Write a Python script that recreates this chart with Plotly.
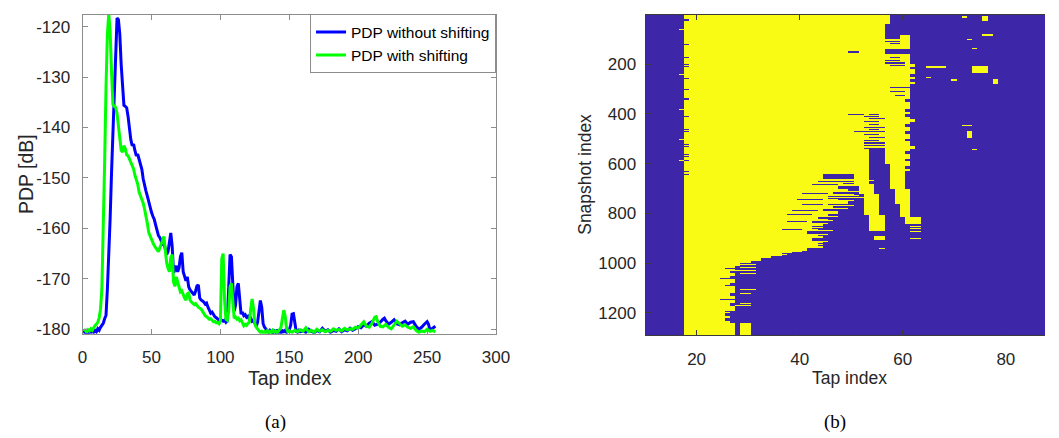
import numpy as np
import plotly.graph_objects as go

# ---------------- Data: (a) PDP curves ----------------
blue_x = list(range(1, 159)) + [160, 162, 164, 166, 168, 170, 172, 174, 176, 178, 180, 182, 184, 186, 188, 190,
                                192, 194, 196, 198, 200, 202, 204, 206, 208, 210, 212, 214, 216, 218, 219, 220,
                                222, 224, 226, 228, 230, 232, 234, 236, 238, 240, 242, 244, 246, 248, 250, 251,
                                252, 254, 256]
blue_y = [-180.2, -180.9, -180.4, -180.8, -180.1, -180.7, -180.3, -180.6, -180.2, -180.5,
          -179.9, -180.2, -179.6, -179.2, -178.8, -177.9, -177.2, -172.0, -166.0, -158.0,
          -149.0, -141.0, -131.0, -122.5, -118.3, -118.6, -121.5, -127.5, -133.0, -135.6,
          -135.8, -136.1, -137.8, -140.2, -142.4, -143.6, -143.3, -144.6, -145.6, -145.3,
          -146.4, -147.6, -148.3, -150.2, -151.8, -152.6, -153.6, -154.8, -155.4, -156.8,
          -157.6, -158.2, -159.3, -160.4, -161.4, -161.8, -162.6, -163.1, -162.9, -163.8,
          -165.2, -164.6, -162.4, -160.9, -163.5, -168.8, -168.2, -167.4, -168.6, -167.8,
          -165.6, -164.8, -168.6, -169.5, -170.4, -169.6, -171.6, -172.2, -172.6, -172.8,
          -173.2, -172.4, -171.4, -171.2, -173.8, -174.2, -174.4, -174.6, -175.0, -174.8,
          -175.6, -176.2, -176.8, -176.6, -177.2, -177.5, -177.7, -177.9, -178.2, -178.0,
          -178.3, -178.4, -178.2, -178.6, -178.3, -172.0, -165.2, -165.6, -172.8, -176.4,
          -175.2, -171.6, -170.9, -174.6, -177.0, -176.6, -177.3, -177.1, -177.6, -177.4,
          -178.0, -177.8, -178.4, -178.2, -178.9, -179.4, -178.6, -176.2, -174.3, -175.6,
          -178.9, -179.6, -179.9, -180.3, -180.6, -180.2, -180.5, -180.7, -180.3, -180.6,
          -180.1, -180.6, -180.4, -180.8, -180.3, -180.5, -180.2, -180.6, -180.4, -180.1,
          -179.2, -177.0, -176.9, -179.3, -180.4, -180.6, -180.2, -180.5,
          -180.3, -180.6, -180.0, -180.4, -180.7, -180.2, -180.5, -179.8, -180.4, -180.1,
          -180.6, -180.2, -180.4, -179.9, -180.5, -180.1, -180.3, -179.8, -180.2, -179.9,
          -179.5, -179.7, -179.1, -179.4, -178.8, -178.5, -179.2, -179.0, -178.6, -178.0,
          -177.8, -178.3, -179.0, -178.6, -178.1, -178.9, -179.1, -178.7, -178.4, -179.0,
          -178.6, -178.5, -179.4, -180.0, -179.6, -179.0, -178.5, -179.0, -180.1, -179.8,
          -179.4]

green_x = list(range(1, 151)) + [152, 154, 156, 158, 160, 162, 164, 166, 168, 170, 172, 174, 176, 178, 180,
                                 182, 184, 186, 188, 190, 192, 194, 196, 198, 200, 202, 204, 206, 208, 210,
                                 212, 213, 214, 216, 218, 220, 222, 224, 226, 228, 230, 232, 234, 236, 238,
                                 240, 242, 244, 246, 248, 250, 252, 254, 256]
green_y = [-180.4, -180.0, -180.6, -180.1, -180.3, -179.9, -180.2, -179.6, -179.3, -179.0,
           -178.6, -177.8, -176.0, -172.0, -162.0, -147.0, -132.0, -121.5, -117.5, -121.0,
           -129.0, -135.4, -135.8, -136.0, -137.2, -139.5, -142.0, -144.5, -144.9, -143.6,
           -144.2, -145.4, -145.6, -146.3, -146.8, -147.6, -148.2, -149.5, -150.3, -151.2,
           -152.8, -153.5, -154.1, -155.0, -156.2, -157.3, -159.0, -160.8, -161.6, -162.3,
           -162.8, -163.4, -163.7, -164.2, -164.6, -164.0, -163.2, -162.4, -161.6, -164.2,
           -166.8, -167.9, -168.6, -165.8, -165.2, -170.6, -171.5, -169.6, -170.8, -172.0,
           -172.6, -172.4, -173.2, -173.8, -174.2, -173.0, -172.8, -174.2, -174.6, -174.8,
           -175.1, -174.9, -175.4, -175.6, -175.8, -176.0, -176.4, -176.9, -177.3, -177.5,
           -177.7, -178.0, -177.9, -178.3, -178.5, -178.4, -178.7, -178.6, -178.9, -178.4,
           -166.0, -165.0, -174.0, -178.0, -178.2, -176.5, -171.6, -170.9, -175.2, -177.8,
           -177.6, -178.0, -177.8, -178.3, -178.1, -178.6, -179.3, -179.0, -179.2, -178.8,
           -178.6, -176.0, -174.0, -175.8, -178.9, -179.6, -179.9, -180.3, -180.6, -180.4,
           -180.7, -180.5, -180.8, -180.3, -180.6, -180.4, -180.7, -180.2, -180.5, -180.3,
           -180.6, -180.4, -180.1, -179.6, -177.8, -176.2, -177.4, -179.8, -180.5, -180.3,
           -180.6, -180.2, -180.5, -180.1, -180.4, -179.7, -180.5, -180.2, -180.6, -180.0,
           -180.4, -180.1, -180.5, -180.2, -180.4, -179.9, -180.2, -180.0, -180.3, -179.8,
           -180.1, -179.9, -180.0, -179.6, -179.8, -179.2, -178.5, -179.4, -179.6, -178.8,
           -177.6, -177.5, -178.4, -179.4, -179.5, -179.0, -179.6, -179.9, -179.2, -178.4,
           -178.9, -179.4, -179.1, -179.6, -179.8, -179.5, -180.2, -180.6, -180.3, -180.5,
           -180.0, -180.4, -180.2, -180.5]

pdp_xticks = [0, 50, 100, 150, 200, 250, 300]
pdp_yticks = [-180, -170, -160, -150, -140, -130, -120]
pdp_yticklabels = ["-180", "-170", "-160", "-150", "-140", "-130", "-120"]

# ---------------- Data: (b) binary tap-activity map ----------------
n_snap = 1290
n_tap = 100
band = 10
# last yellow tap of the main body, per band of 10 snapshots
body_right = [57, 57, 57, 57, 56, 56, 56, 56, 56, 56,
              61, 61, 61, 61, 56, 56, 61, 61, 61, 61,
              62, 61, 62, 62, 61, 62, 61, 62, 61, 61,
              61, 61, 61, 61, 60, 61, 61, 61, 60, 61,
              60, 61, 62, 61, 60, 61, 61, 60, 61, 61,
              60, 61, 61, 62, 61, 60, 61, 61, 60, 61,
              61, 60, 61, 60, 44, 44, 50, 48, 51, 47,
              49, 46, 50, 45, 47, 49, 45, 46, 44, 47,
              45, 43, 45, 42, 44, 42, 43, 41, 43, 44,
              42, 44, 43, 44, 41, 38, 36, 34, 32, 30,
              28, 27, 27, 26, 27, 26, 27, 27, 26, 27,
              27, 27, 26, 27, 27, 27, 26, 27, 27, 26,
              25, 26, 25, 26, 27, 27, 27, 27, 27]
body_left = 18
left_notches = [(20, 24), (118, 121), (170, 173), (200, 203), (209, 212), (255, 258), (300, 303),
                (335, 338), (342, 345), (410, 413), (460, 463), (470, 474), (520, 523), (530, 533),
                (560, 563), (570, 574), (585, 588), (630, 633), (640, 645)]
left_bumps = [(60, 63), (240, 243), (380, 383), (500, 503), (585, 588)]
# (snapshot from, snapshot to, tap from, tap to)
blue_cuts = [(147, 153, 50, 51), (107, 112, 57, 59), (116, 119, 58, 59), (173, 176, 58, 59),
             (182, 186, 57, 59), (193, 197, 57, 60), (202, 206, 58, 60),
             (292, 295, 58, 61), (299, 301, 59, 61), (308, 311, 58, 60), (326, 328, 59, 60),
             (399, 402, 50, 52), (399, 402, 54, 55), (408, 411, 53, 55), (418, 421, 54, 56),
             (430, 433, 53, 55), (441, 444, 54, 55), (452, 455, 53, 56), (462, 465, 54, 55),
             (471, 474, 51, 56), (483, 486, 53, 55), (494, 497, 54, 56), (505, 508, 53, 55),
             (515, 519, 53, 56), (526, 530, 53, 56), (536, 540, 53, 56), (541, 640, 54, 56),
             (600, 640, 54, 57),
             (670, 672, 44, 48), (684, 686, 43, 47), (705, 707, 42, 46), (718, 720, 41, 45),
             (742, 744, 40, 44), (762, 764, 41, 44), (786, 788, 39, 43), (804, 806, 38, 42),
             (832, 834, 38, 41), (862, 864, 37, 40), (890, 892, 38, 41), (918, 920, 37, 40),
             (1021, 1023, 26, 27), (1060, 1062, 25, 27), (1088, 1090, 26, 27),
             (1146, 1148, 25, 27), (1192, 1194, 26, 27)]
yellow_extra = [(85, 98, 60, 61), (5, 15, 72, 72), (5, 28, 76, 76), (81, 87, 76, 77), (100, 101, 73, 73),
                (136, 139, 74, 74), (207, 233, 74, 76), (206, 215, 65, 68), (222, 224, 64, 67),
                (254, 256, 65, 65), (260, 280, 78, 78), (260, 268, 70, 70), (443, 447, 72, 73),
                (471, 498, 73, 73), (543, 545, 74, 74),
                (641, 680, 51, 53), (681, 720, 52, 54), (721, 760, 53, 55), (761, 805, 53, 55),
                (806, 870, 54, 56), (890, 905, 55, 56), (940, 943, 56, 56),
                (641, 700, 58, 60), (701, 760, 59, 61), (761, 815, 60, 61), (816, 842, 61, 63),
                (849, 852, 62, 63), (860, 863, 62, 63), (872, 875, 62, 63), (885, 888, 62, 63),
                (898, 901, 62, 63),
                (665, 667, 50, 54), (676, 678, 48, 53), (688, 690, 47, 52), (697, 699, 49, 55),
                (712, 714, 46, 52), (726, 728, 47, 51), (735, 737, 46, 53), (748, 750, 45, 50),
                (757, 759, 47, 52), (768, 770, 44, 50), (779, 781, 45, 49), (793, 795, 44, 48),
                (812, 814, 43, 47), (826, 828, 42, 46), (838, 840, 41, 45), (856, 858, 40, 44),
                (868, 870, 42, 46), (882, 884, 40, 45), (895, 897, 41, 44), (912, 914, 42, 45),
                (925, 927, 40, 44), (938, 940, 38, 42), (952, 954, 35, 40), (963, 965, 33, 37),
                (975, 977, 30, 34), (986, 988, 27, 31),
                (1005, 1008, 28, 31), (1015, 1017, 29, 31), (1026, 1029, 28, 31), (1040, 1042, 29, 31),
                (1103, 1106, 29, 31), (1115, 1117, 28, 31), (1122, 1124, 29, 30), (1160, 1162, 29, 30),
                (1170, 1172, 28, 30), (1240, 1290, 29, 30)]
map_xticks = [20, 40, 60, 80]
map_yticks = [200, 400, 600, 800, 1000, 1200]

# ---------------- build matrix ----------------
z = np.zeros((n_snap, n_tap), dtype=int)
for b, r in enumerate(body_right):
    z[b * band:(b + 1) * band, body_left - 1:r] = 1
for s0, s1 in left_notches:
    z[s0 - 1:s1, body_left - 1] = 0
for s0, s1 in left_bumps:
    z[s0 - 1:s1, body_left - 2] = 1
for s0, s1, t0, t1 in blue_cuts:
    z[s0 - 1:s1, t0 - 1:t1] = 0
for s0, s1, t0, t1 in yellow_extra:
    z[s0 - 1:s1, t0 - 1:t1] = 1
taps = list(range(1, n_tap + 1))
snaps = list(range(1, n_snap + 1))

W, H = 1059, 438
def px(x):
    return x / W
def py(y):
    return (H - y) / H

FONT = "Liberation Sans"
TXT = "#262626"

fig = go.Figure()
fig.add_trace(go.Scatter(x=blue_x, y=blue_y, mode="lines", name="PDP without shifting",
                         line=dict(color="#0000FF", width=3), xaxis="x", yaxis="y"))
fig.add_trace(go.Scatter(x=green_x, y=green_y, mode="lines", name="PDP with shifting",
                         line=dict(color="#00FF00", width=3), xaxis="x", yaxis="y"))
fig.add_trace(go.Heatmap(x=taps, y=snaps, z=z.tolist(), xaxis="x2", yaxis="y2",
                         colorscale=[[0, "#3E26A8"], [1, "#F9FB15"]], zmin=0, zmax=1,
                         showscale=False, zsmooth=False, hoverinfo="skip"))

axL = dict(showline=True, linecolor="#8c8c8c", linewidth=1, mirror="ticks", ticks="inside",
           ticklen=5, tickcolor="#8c8c8c", showgrid=False, zeroline=False,
           tickfont=dict(family=FONT, size=17, color=TXT))
axR = dict(showline=True, linecolor="#3a3a3a", linewidth=1, ticks="inside",
           ticklen=5, tickcolor="#3a3a3a", showgrid=False, zeroline=False,
           tickfont=dict(family=FONT, size=17, color=TXT))

fig.update_layout(
    width=W, height=H, margin=dict(l=0, r=0, t=0, b=0),
    paper_bgcolor="white", plot_bgcolor="white",
    showlegend=True,
    xaxis=dict(axL, domain=[px(79), px(500)], range=[0, 300], tickvals=pdp_xticks,
               anchor="y", ticklabelstandoff=8),
    yaxis=dict(axL, domain=[py(337.7), py(14.7)], range=[-180.9, -117.6], tickvals=pdp_yticks,
               ticktext=pdp_yticklabels, anchor="x", ticklabelstandoff=8),
    xaxis2=dict(axR, mirror="ticks", domain=[px(652.3), 1.0], range=[10.1, 87.6], tickvals=map_xticks,
                anchor="y2", ticklabelstandoff=8),
    yaxis2=dict(axR, mirror=False, domain=[py(339.3), py(14.7)], range=[1290.5, 0.5],
                tickvals=map_yticks, anchor="x2", ticklabelstandoff=5),
    legend=dict(x=px(500), y=py(14.5), xanchor="right", yanchor="top",
                bgcolor="white", bordercolor="#8c8c8c", borderwidth=1,
                font=dict(family=FONT, size=15.5, color="#000000"),
                tracegroupgap=0, itemwidth=30),
)

ann = [
    dict(text="Tap index", x=px(290), y=py(382), font=dict(family=FONT, size=19.5, color=TXT)),
    dict(text="PDP [dB]", x=px(21.5), y=py(176), textangle=-90, font=dict(family=FONT, size=19.5, color=TXT)),
    dict(text="Tap index", x=px(860), y=py(382), font=dict(family=FONT, size=17.5, color=TXT)),
    dict(text="Snapshot index", x=px(590.7), y=py(176.7), textangle=-90,
         font=dict(family=FONT, size=17.5, color=TXT)),
    dict(text="(a)", x=px(275), y=py(427), font=dict(family="Liberation Serif", size=19, color="#000000")),
    dict(text="(b)", x=px(845), y=py(427), font=dict(family="Liberation Serif", size=19, color="#000000")),
]
for a in ann:
    a.update(xref="paper", yref="paper", xanchor="center", yanchor="middle", showarrow=False)
fig.update_layout(annotations=ann)

fig.write_html("out.html")
